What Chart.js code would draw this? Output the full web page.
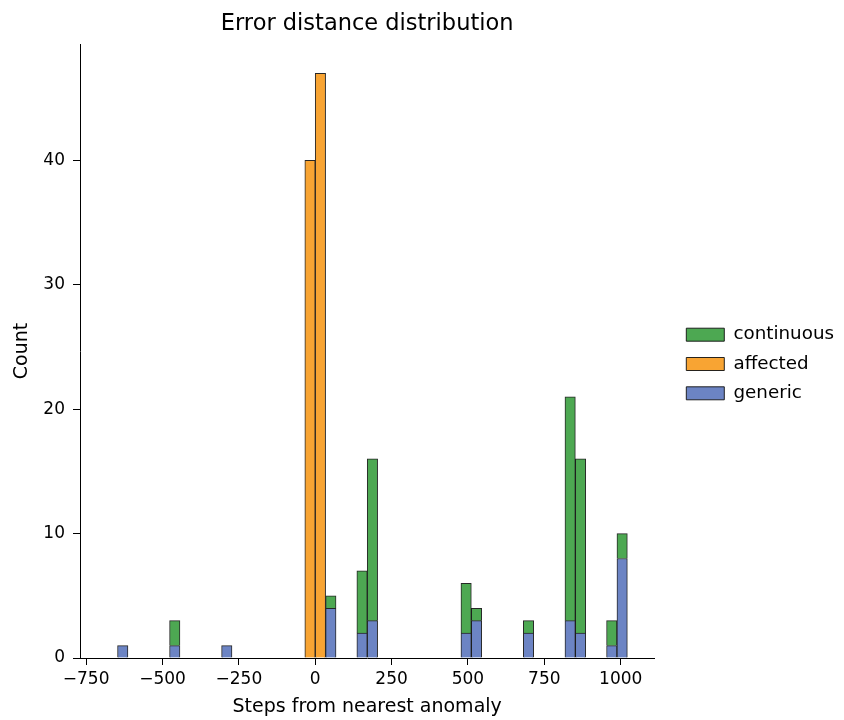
<!DOCTYPE html>
<html>
<head>
<meta charset="utf-8">
<title>Error distance distribution</title>
<script src="https://cdn.jsdelivr.net/npm/chart.js@4.4.1/dist/chart.umd.min.js"></script>
<style>
  html, body { margin: 0; padding: 0; background: #fff; }
  #wrap { width: 844px; height: 720px; }
</style>
</head>
<body>
<div id="wrap"><canvas id="errorChart" width="844" height="720"></canvas></div>
<script>
// histogram bins (bin centre, steps from nearest anomaly), bin width ~34 steps
const binWidth = 34.06;
const binCenters = [-630.1, -459.8, -289.5, -17.0, 17.0, 51.1, 153.3, 187.3, 494.0, 528.0, 698.2, 834.5, 868.5, 970.7, 1004.7];

// counts per bin for each error type
const genericCounts    = [1, 1, 1, 0, 0, 4, 2, 3, 2, 3, 2, 3, 2, 1, 8];
const affectedCounts   = [0, 0, 0, 40, 47, 0, 0, 0, 0, 0, 0, 0, 0, 0, 0];
const continuousCounts = [0, 2, 0, 0, 0, 1, 5, 13, 4, 1, 1, 18, 14, 2, 2];

const xTicks = [-750, -500, -250, 0, 250, 500, 750, 1000];
const yTicks = [0, 10, 20, 30, 40];

function toPoints(counts) {
  return binCenters.map((x, i) => ({ x: x, y: counts[i] > 0 ? counts[i] : null }));
}

Chart.defaults.font.family = "'DejaVu Sans', sans-serif";
Chart.defaults.font.size = 17;
Chart.defaults.color = "#000";

const edge = "rgba(15,15,15,0.9)";

new Chart(document.getElementById("errorChart"), {
  type: "bar",
  data: {
    datasets: [
      {
        label: "generic",
        data: toPoints(genericCounts),
        backgroundColor: "rgb(108,132,196)",
        borderColor: edge,
        borderWidth: 1,
        borderSkipped: "start",
      },
      {
        label: "affected",
        data: toPoints(affectedCounts),
        backgroundColor: "rgb(248,164,51)",
        borderColor: edge,
        borderWidth: 1,
        borderSkipped: "start",
      },
      {
        label: "continuous",
        data: toPoints(continuousCounts),
        backgroundColor: "rgb(77,168,82)",
        borderColor: edge,
        borderWidth: 1,
        borderSkipped: "start",
      },
    ],
  },
  options: {
    responsive: false,
    animation: false,
    categoryPercentage: 1.0,
    barPercentage: 1.0,
    layout: { padding: { top: 8, right: 0, bottom: 0, left: 0 } },
    plugins: {
      title: {
        display: true,
        text: "Error distance distribution",
        fullSize: false,
        font: { size: 22.5, weight: "normal" },
        color: "#000",
        padding: { top: 2.5, bottom: 6.5 },
      },
      legend: {
        position: "right",
        reverse: true,
        maxWidth: 220,
        labels: {
          boxWidth: 38,
          boxHeight: 13,
          padding: 11,
          font: { size: 18.3 },
          color: "#000",
        },
      },
      tooltip: { enabled: false },
    },
    scales: {
      x: {
        type: "linear",
        stacked: true,
        offset: false,
        min: -770,
        max: 1110,
        afterBuildTicks: (s) => { s.ticks = xTicks.map((v) => ({ value: v })); },
        afterFit: (s) => { s.height = 62; },
        ticks: {
          padding: 4,
          maxRotation: 0,
          callback: (v) => String(v).replace("-", "\u2212"),
        },
        grid: {
          offset: false,
          drawOnChartArea: false,
          drawTicks: true,
          tickLength: 7,
          tickColor: "#000",
        },
        border: { display: true, color: "#000", width: 1 },
        title: {
          display: true,
          text: "Steps from nearest anomaly",
          font: { size: 19 },
          padding: { top: 0, bottom: 1.5 },
        },
      },
      y: {
        type: "linear",
        stacked: true,
        min: 0,
        max: 49.35,
        afterBuildTicks: (s) => { s.ticks = yTicks.map((v) => ({ value: v })); },
        afterFit: (s) => { s.width = 80; },
        ticks: { padding: 8, callback: (v) => String(v) },
        grid: {
          drawOnChartArea: false,
          drawTicks: true,
          tickLength: 7,
          tickColor: "#000",
        },
        border: { display: true, color: "#000", width: 1 },
        title: {
          display: true,
          text: "Count",
          font: { size: 19 },
          padding: { top: 10.5, bottom: 0 },
        },
      },
      // empty strip between the plot and the legend
      gap: {
        type: "linear",
        position: "right",
        display: true,
        grid: { display: false },
        ticks: { display: false },
        border: { display: false },
        afterFit: (s) => { s.width = 21; },
      },
    },
  },
});
</script>
</body>
</html>
